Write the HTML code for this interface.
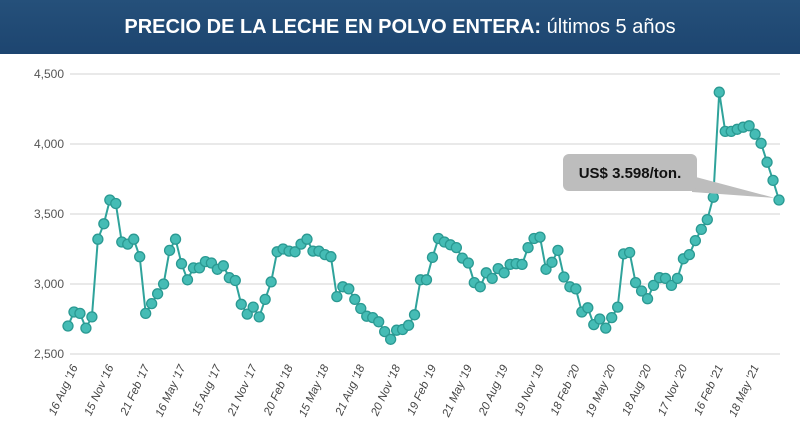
<!DOCTYPE html>
<html><head><meta charset="utf-8"><style>
body{margin:0;width:800px;height:438px;background:#fff;overflow:hidden;font-family:"Liberation Sans",sans-serif}
#hdr{position:absolute;left:0;top:0;width:800px;height:54px;background:linear-gradient(#25507a,#1d4570);color:#fff;text-align:center;line-height:54px;font-size:20px}
#hdr b{font-weight:bold}
</style></head><body>
<div id="hdr"><b>PRECIO DE LA LECHE EN POLVO ENTERA:</b> últimos 5 años</div>
<svg id="c" width="800" height="438" style="position:absolute;left:0;top:0"></svg>
<script>
const values=[2700,2800,2790,2685,2765,3320,3430,3600,3575,3300,3285,3320,3195,2790,2860,2930,3000,3240,3320,3145,3030,3115,3115,3160,3150,3105,3130,3045,3025,2855,2785,2835,2765,2890,3015,3230,3250,3235,3230,3285,3320,3235,3235,3210,3195,2910,2980,2965,2890,2825,2770,2760,2730,2660,2605,2670,2675,2705,2780,3030,3030,3190,3325,3300,3280,3260,3185,3150,3010,2980,3080,3040,3110,3080,3140,3145,3140,3260,3325,3335,3105,3155,3240,3050,2980,2965,2800,2830,2710,2750,2685,2760,2835,3215,3225,3010,2950,2895,2990,3045,3040,2990,3040,3180,3210,3310,3390,3460,3620,4370,4090,4090,4105,4120,4130,4070,4005,3870,3740,3600];
const yTicks=[2500,3000,3500,4000,4500];
const yTickLabels=["2,500","3,000","3,500","4,000","4,500"];
const xLabels=["16 Aug '16","15 Nov '16","21 Feb '17","16 May '17","15 Aug '17","21 Nov '17","20 Feb '18","15 May '18","21 Aug '18","20 Nov '18","19 Feb '19","21 May '19","20 Aug '19","19 Nov '19","18 Feb '20","19 May '20","18 Aug '20","17 Nov '20","16 Feb '21","18 May '21"];
const calloutText="US$ 3.598/ton.";
const NS="http://www.w3.org/2000/svg",svg=document.getElementById('c');
const x=i=>68+i*(779-68)/(values.length-1);
const y=v=>354-(v-2500)*0.14;
function mk(t,a){const e=document.createElementNS(NS,t);for(const k in a)e.setAttribute(k,a[k]);svg.appendChild(e);return e;}
yTicks.forEach((t,i)=>{
 const g=mk('line',{x1:70,x2:780,y1:y(t),y2:y(t),stroke:'#e2e2e2','stroke-width':1.5});
 
 
 const l=mk('text',{x:64,y:y(t)+4,'text-anchor':'end','font-size':12,fill:'#555'});
 l.textContent=yTickLabels[i];
 
 
});
xLabels.forEach((s,k)=>{
 const xx=x(k*6)+10,yy=367;
 const l=mk('text',{x:xx,y:yy,'text-anchor':'end','font-size':11.5,fill:'#444','font-style':'italic',transform:`rotate(-65 ${xx} ${yy})`});
 l.textContent=s;
 
 
});
const p=mk('polyline',{points:values.map((v,i)=>x(i)+','+y(v)).join(' '),fill:'none',stroke:'#2fa39b','stroke-width':2});


values.forEach((v,i)=>{
 const c=mk('circle',{cx:x(i),cy:y(v),r:5,fill:'#45bcb5',stroke:'#2a9992','stroke-width':1.3});
 
 
});
const last=values.length-1;
const tail=mk('polygon',{points:`692,176 692,192 ${x(last)-4},${y(values[last])-2}`,fill:'#bdbdbd'});


const r=mk('rect',{x:563,y:154,width:134,height:37,rx:6,fill:'#bdbdbd'});


const t=mk('text',{x:630,y:178,'text-anchor':'middle','font-size':15,'font-weight':'bold',fill:'#111'});
t.textContent=calloutText;


</script>
</body></html>
